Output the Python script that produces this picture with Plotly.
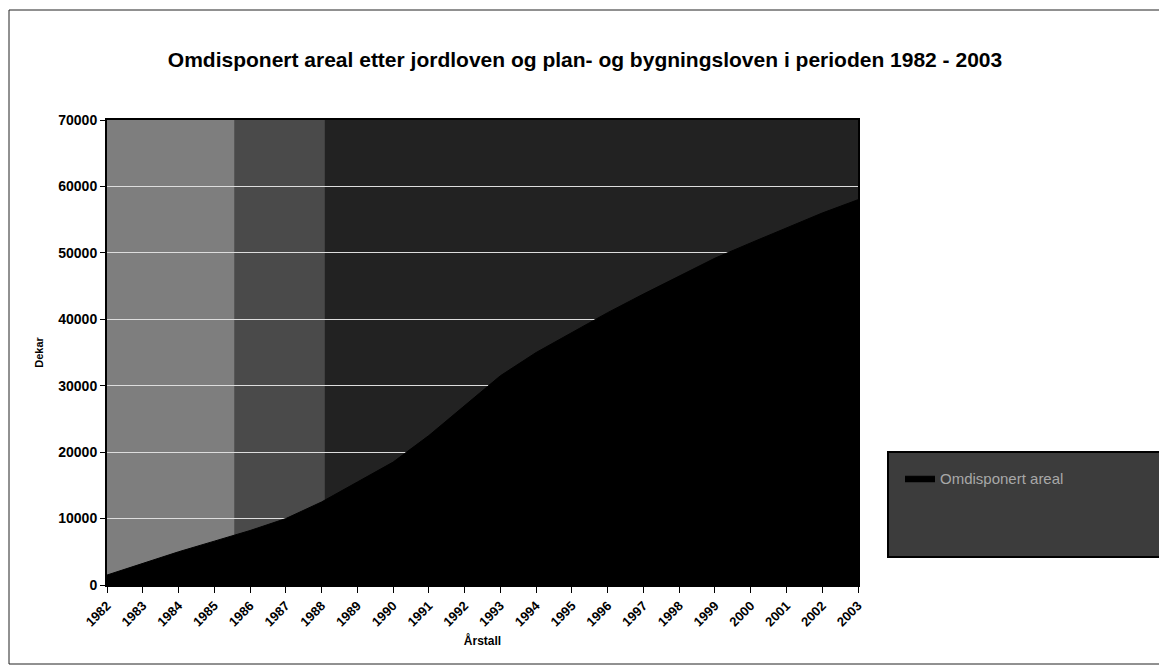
import plotly.graph_objects as go

years = list(range(1982, 2004))
areal = [1500, 3300, 5000, 6600, 8200, 10000, 12500, 15500, 18500, 22500, 27000,
         31500, 35000, 38000, 41000, 43800, 46500, 49200, 51500, 53800, 56000, 58000]
y_ticks = [0, 10000, 20000, 30000, 40000, 50000, 60000, 70000]
title = "Omdisponert areal etter jordloven og plan- og bygningsloven i perioden 1982 - 2003"
series_name = "Omdisponert areal"

OFF = 8  # page body margin
W, H = 1167 - OFF, 667 - OFF
L, R, T, B = 107 - OFF, 309, 120 - OFF, 82
pw, ph = W - L - R, H - T - B

def px(x):
    return (x - OFF - L) / pw

def py(y):
    return (H - B - (y - OFF)) / ph

fig = go.Figure()
fig.add_trace(go.Scatter(
    x=years, y=areal, mode="lines", fill="tozeroy",
    line=dict(color="black", width=1), fillcolor="black", name=series_name,
    showlegend=True,
))

font = "Liberation Sans, Arial, sans-serif"
shapes = [
    dict(type="rect", xref="paper", yref="paper", x0=0, x1=0.17, y0=0, y1=1,
         fillcolor="#7e7e7e", line=dict(width=0), layer="between"),
    dict(type="rect", xref="paper", yref="paper", x0=0.17, x1=0.29, y0=0, y1=1,
         fillcolor="#4a4a4a", line=dict(width=0), layer="between"),
    dict(type="rect", xref="paper", yref="paper", x0=px(888), x1=px(1163),
         y0=py(557), y1=py(452), fillcolor="#3c3c3c", line=dict(color="black", width=2)),
    dict(type="rect", xref="paper", yref="paper", x0=px(9), x1=px(1163),
         y0=py(664), y1=py(10), fillcolor="rgba(0,0,0,0)", line=dict(color="#222", width=1)),
]

fig.update_layout(
    width=W, height=H,
    margin=dict(l=L, r=R, t=T, b=B),
    paper_bgcolor="white", plot_bgcolor="#222222",
    font=dict(family=font, color="black"),
    title=dict(text="<b>" + title + "</b>", x=(585 - OFF) / W, xref="container",
               xanchor="center", y=1 - (60 - OFF) / H, yanchor="middle",
               font=dict(size=21, family=font)),
    shapes=shapes,
    showlegend=True,
    legend=dict(x=px(900), y=py(462), xanchor="left", yanchor="top",
                bgcolor="rgba(0,0,0,0)", borderwidth=0,
                font=dict(size=15, color="#a8a8a8", family=font)),
    xaxis=dict(range=[1982, 2003], tickmode="array", tickvals=years,
               ticktext=[f"<b>{y}</b>" for y in years], tickangle=-45,
               tickfont=dict(size=13, family=font), ticks="outside", ticklen=6,
               tickcolor="black", showline=True, linecolor="black", linewidth=2,
               mirror=True, showgrid=False, zeroline=False,
               title=dict(text="<b>Årstall</b>", font=dict(size=12), standoff=8)),
    yaxis=dict(range=[0, 70000], tickmode="array", tickvals=y_ticks,
               ticktext=[f"<b>{v}</b>" for v in y_ticks],
               tickfont=dict(size=14, family=font), ticks="outside", ticklen=5,
               tickcolor="black", showline=True, linecolor="black", linewidth=2,
               mirror=True, showgrid=True, gridcolor="#dddddd", gridwidth=1,
               zeroline=False,
               title=dict(text="<b>Dekar</b>", font=dict(size=11), standoff=12)),
)

fig.write_html("out.html")
